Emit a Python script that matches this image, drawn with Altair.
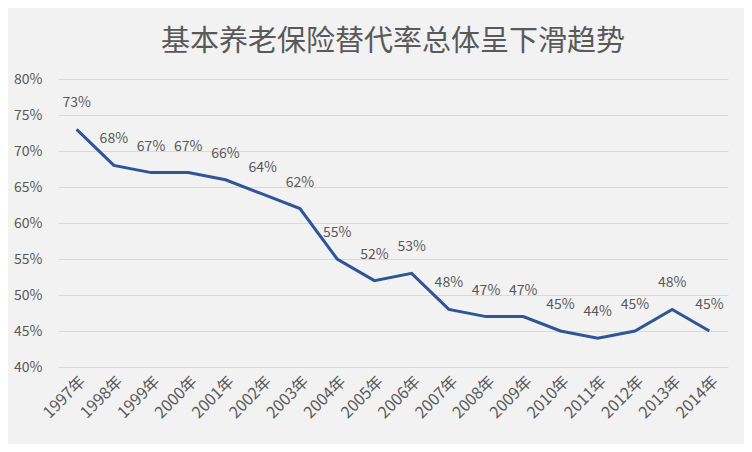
import altair as alt
import pandas as pd

years = ["1997年", "1998年", "1999年", "2000年", "2001年", "2002年", "2003年", "2004年", "2005年",
         "2006年", "2007年", "2008年", "2009年", "2010年", "2011年", "2012年", "2013年", "2014年"]
rates = [73, 68, 67, 67, 66, 64, 62, 55, 52, 53, 48, 47, 47, 45, 44, 45, 48, 45]

df = pd.DataFrame({"year": years, "rate": [r / 100 for r in rates]})
df["label"] = [f"{r}%" for r in rates]

FONT = "Noto Sans CJK SC"
GRAY = "#595959"

x = alt.X("year:N", sort=years, title=None,
          scale=alt.Scale(paddingInner=0, paddingOuter=0),
          axis=alt.Axis(labelAngle=-45, labelFontSize=16, labelColor=GRAY, labelFont=FONT,
                        domain=False, ticks=False, labelPadding=6))
y = alt.Y("rate:Q", title=None,
          scale=alt.Scale(domain=[0.40, 0.80], nice=False),
          axis=alt.Axis(format=".0%", values=[0.40, 0.45, 0.50, 0.55, 0.60, 0.65, 0.70, 0.75, 0.80],
                        labelFontSize=14, labelColor=GRAY, labelFont=FONT, domain=False, ticks=False,
                        labelPadding=16, gridColor="#d9d9d9", gridWidth=1))

line = alt.Chart(df).mark_line(color="#2f5597", strokeWidth=3).encode(x=x, y=y)
text = alt.Chart(df).mark_text(dy=-26, fontSize=14, color=GRAY, font=FONT).encode(
    x=x, y=y, text="label:N")

chart = (line + text).properties(
    width=670, height=288,
    title=alt.TitleParams("基本养老保险替代率总体呈下滑趋势", fontSize=29, font=FONT,
                          color=GRAY, fontWeight="normal", anchor="middle", offset=15),
    autosize=alt.AutoSizeParams(type="none"),
    padding={"left": 50, "top": 71, "right": 16, "bottom": 77},
).configure(background="#f2f2f2").configure_view(stroke=None)

chart.save("out.html", embed_options={"renderer": "svg", "actions": False})
